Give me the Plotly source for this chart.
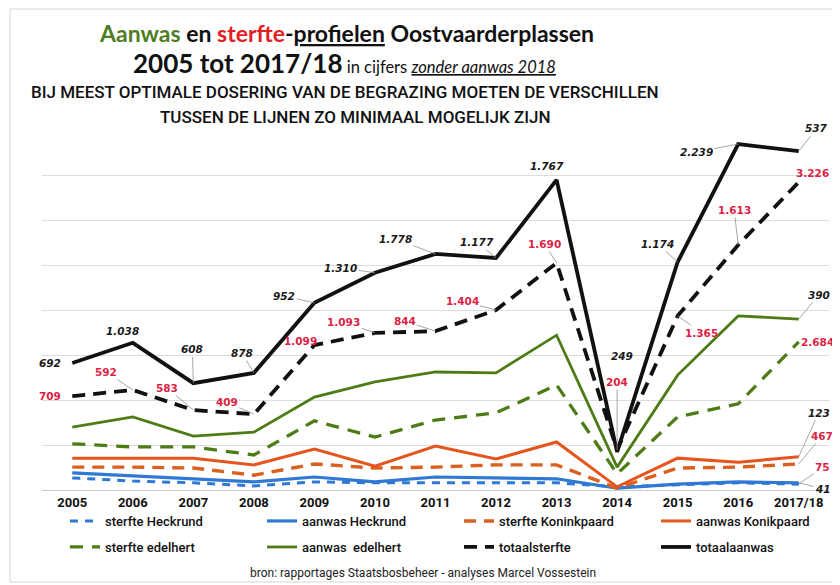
import plotly.graph_objects as go

# ---------------- data (plotted levels; grid step = 1) ----------------
years = ["2005", "2006", "2007", "2008", "2009", "2010", "2011", "2012",
         "2013", "2014", "2015", "2016", "2017/18"]

sterfte_heckrund = [0.27, 0.20, 0.16, 0.09, 0.18, 0.16, 0.16, 0.16, 0.16, 0.07, 0.11, 0.16, 0.13]
aanwas_heckrund = [0.38, 0.31, 0.25, 0.18, 0.29, 0.18, 0.29, 0.27, 0.25, 0.04, 0.13, 0.18, 0.16]
sterfte_koninkpaard = [0.51, 0.51, 0.49, 0.33, 0.58, 0.49, 0.51, 0.56, 0.56, 0.04, 0.49, 0.51, 0.58]
aanwas_konikpaard = [0.71, 0.71, 0.71, 0.56, 0.91, 0.53, 0.98, 0.69, 1.07, 0.07, 0.71, 0.62, 0.74]
sterfte_edelhert = [1.03, 0.96, 0.96, 0.78, 1.54, 1.18, 1.56, 1.72, 2.34, 0.36, 1.63, 1.92, 3.30]
aanwas_edelhert = [1.40, 1.63, 1.20, 1.29, 2.07, 2.41, 2.63, 2.61, 3.45, 0.51, 2.56, 3.88, 3.81]
totaalsterfte = [2.09, 2.23, 1.78, 1.69, 3.23, 3.50, 3.54, 4.01, 5.06, 0.89, 3.88, 5.46, 6.86]
totaalaanwas = [2.83, 3.28, 2.38, 2.61, 4.17, 4.84, 5.26, 5.17, 6.91, 0.85, 5.08, 7.71, 7.55]

totaalaanwas_labels = ["692", "1.038", "608", "878", "952", "1.310", "1.778", "1.177",
                       "1.767", "249", "1.174", "2.239", "537"]
totaalsterfte_labels = ["709", "592", "583", "409", "1.099", "1.093", "844", "1.404",
                        "1.690", "204", "1.365", "1.613", "3.226"]
end_label_aanwas_edelhert = "390"
end_label_sterfte_edelhert = "2.684"
end_label_aanwas_konikpaard = "123"
end_label_sterfte_koninkpaard = "467"
end_label_sterfte_heckrund = "75"
end_label_aanwas_heckrund = "41"

legend_names = ["sterfte Heckrund", "aanwas Heckrund", "sterfte Koninkpaard", "aanwas Konikpaard",
                "sterfte edelhert", "aanwas  edelhert", "totaalsterfte", "totaalaanwas"]

# ---------------- styling / layout constants ----------------
OFF = 8                      # page margin of the browser body
W, H = 840 - OFF, 585 - OFF
ML, MR, MT, MB = 34, 10.5, 123, 95
PW = W - ML - MR
PH = H - MT - MB


def px_x(px):
    """reference-picture x pixel -> paper coordinate"""
    return (px - OFF - ML) / PW


def px_y(py):
    """reference-picture y pixel -> paper coordinate"""
    return (H - MB - (py - OFF)) / PH


BLUE = "#2f78d4"
ORANGE = "#e4561d"
ORANGE_D = "#d9601e"
GREEN = "#4d7c17"
BLACK = "#111111"
RED = "#dc1f45"
LBL_BLACK = "#1a1a1a"

series = [
    (sterfte_heckrund, legend_names[0], BLUE, 3, "8px,7px", "legend"),
    (aanwas_heckrund, legend_names[1], BLUE, 3.2, "solid", "legend"),
    (sterfte_koninkpaard, legend_names[2], ORANGE_D, 3.4, "12px,8px", "legend"),
    (aanwas_konikpaard, legend_names[3], ORANGE, 3, "solid", "legend"),
    (sterfte_edelhert, legend_names[4], GREEN, 3.3, "13px,9px", "legend2"),
    (aanwas_edelhert, legend_names[5], GREEN, 2.8, "solid", "legend2"),
    (totaalsterfte, legend_names[6], BLACK, 3.8, "13px,8px", "legend2"),
    (totaalaanwas, legend_names[7], BLACK, 3.8, "solid", "legend2"),
]

fig = go.Figure()
for vals, name, color, width, dash, leg in series:
    fig.add_trace(go.Scatter(
        x=years, y=vals, mode="lines", name=name,
        line=dict(color=color, width=width, dash=dash),
        legend=leg, hoverinfo="skip",
    ))

ann = []
black_font = dict(family="DejaVu Sans, Verdana, sans-serif", size=10.5, color=LBL_BLACK,
                  weight="bold", style="italic")
red_font = dict(family="DejaVu Sans, Verdana, sans-serif", size=10.5, color=RED, weight="bold")
LEADER = "#8f8f8f"

# (dx, dy, leader) offsets in pixels for the labels
aanwas_offsets = [(-22, 0, False), (-10, -12, False), (-1, -34, True), (-12, -20, True),
                  (-30, -7, True), (-34, -5, True), (-40, -15, True), (-19, -16, True),
                  (-10, -14, False), (5, -96, False), (-20, -18, True), (-42, 8, True),
                  (18, -23, True)]
sterfte_offsets = [(-22, 0, False), (-27, -18, True), (-26, -22, True), (-27, -12, True),
                   (-14, -4, False), (-31, -11, True), (-31, -10, True), (-34, -9, True),
                   (-12, -19, True), (0, -68, True), (24, 17, True), (-4, -35, True),
                   (14, -9, False)]


def label(idx, yv, text, font, dx, dy, leader):
    if leader:
        return dict(x=idx, y=yv, xref="x", yref="y", text=text, font=font,
                    showarrow=True, arrowhead=0, arrowwidth=0.8, arrowcolor=LEADER,
                    ax=dx, ay=dy, standoff=0)
    return dict(x=idx, y=yv, xref="x", yref="y", text=text, font=font, showarrow=False,
                xshift=dx, yshift=-dy)


for i, t in enumerate(totaalaanwas_labels):
    dx, dy, ld = aanwas_offsets[i]
    ann.append(label(i, totaalaanwas[i], t, black_font, dx, dy, ld))
for i, t in enumerate(totaalsterfte_labels):
    dx, dy, ld = sterfte_offsets[i]
    ann.append(label(i, totaalsterfte[i], t, red_font, dx, dy, ld))

last = len(years) - 1
ann.append(label(last, aanwas_edelhert[last], end_label_aanwas_edelhert, black_font, 20, -24, True))
ann.append(label(last, sterfte_edelhert[last], end_label_sterfte_edelhert, red_font, 19, 0, False))
ann.append(label(last, aanwas_konikpaard[last], end_label_aanwas_konikpaard, black_font, 20, -44, True))
ann.append(label(last, sterfte_koninkpaard[last], end_label_sterfte_koninkpaard, red_font, 23, -28, True))
ann.append(label(last, sterfte_heckrund[last], end_label_sterfte_heckrund, red_font, 24, -17, True))
ann.append(label(last, aanwas_heckrund[last], end_label_aanwas_heckrund, black_font, 24, 6, True))

# ---------------- titles ----------------
TITLE_FONT = "Lato, 'Open Sans', sans-serif"
ann.append(dict(
    xref="paper", yref="paper", x=px_x(347), y=px_y(33), xanchor="center", yanchor="middle",
    showarrow=False,
    text=("<span style='color:#4e7d1f'>Aanwas</span> en "
          "<span style='color:#e31e24'>sterfte</span>-<u>profielen</u> Oostvaarderplassen"),
    font=dict(family=TITLE_FONT, size=23, color="#111", weight="bold"),
))
ann.append(dict(
    xref="paper", yref="paper", x=px_x(345), y=px_y(63), xanchor="center", yanchor="middle",
    showarrow=False,
    text=("2005 tot 2017/18<span style='font-size:16.5px;font-weight:normal'> in cijfers "
          "<i><u>zonder aanwas 2018</u></i></span>"),
    font=dict(family=TITLE_FONT, size=26, color="#111", weight="bold"),
))
ann.append(dict(
    xref="paper", yref="paper", x=px_x(345), y=px_y(92), xanchor="center", yanchor="middle",
    showarrow=False,
    text="BIJ MEEST OPTIMALE DOSERING VAN DE BEGRAZING MOETEN DE VERSCHILLEN",
    font=dict(family="Roboto, sans-serif", size=17, color="#111", weight=500),
))
ann.append(dict(
    xref="paper", yref="paper", x=px_x(356), y=px_y(117), xanchor="center", yanchor="middle",
    showarrow=False,
    text="TUSSEN DE LIJNEN ZO MINIMAAL MOGELIJK ZIJN",
    font=dict(family="Roboto, sans-serif", size=17, color="#111", weight=500),
))
ann.append(dict(
    xref="paper", yref="paper", x=px_x(423), y=px_y(573), xanchor="center", yanchor="middle",
    showarrow=False,
    text="bron: rapportages Staatsbosbeheer - analyses Marcel Vossestein",
    font=dict(family="Roboto, sans-serif", size=12, color="#222"),
))

legend_common = dict(
    orientation="h", xanchor="left", yanchor="middle",
    entrywidth=152, entrywidthmode="pixels",
    font=dict(family="'Liberation Sans Narrow', Roboto, sans-serif", size=13, color="#111",
              weight=500),
    bgcolor="rgba(0,0,0,0)", itemclick=False, itemdoubleclick=False,
    tracegroupgap=0,
)

fig.update_layout(
    width=W, height=H,
    margin=dict(l=ML, r=MR, t=MT, b=MB, autoexpand=False),
    paper_bgcolor="white", plot_bgcolor="white",
    showlegend=True,
    legend=dict(x=px_x(65), y=px_y(521), **legend_common),
    legend2=dict(x=px_x(65), y=px_y(547), **legend_common),
    annotations=ann,
    xaxis=dict(
        type="category", range=[-0.5, len(years) - 0.5], showgrid=False,
        showline=True, linecolor="#c8c8c8", linewidth=1, ticks="",
        tickfont=dict(family="Roboto, sans-serif", size=13, color="#111", weight="bold"),
        fixedrange=True,
    ),
    yaxis=dict(
        range=[0, 8], dtick=1, showticklabels=False, showgrid=True,
        gridcolor="#dcdcdc", gridwidth=1, zeroline=False, ticks="", fixedrange=True,
    ),
    shapes=[dict(type="rect", xref="paper", yref="paper",
                 x0=px_x(10), x1=px_x(836), y0=px_y(582), y1=px_y(9),
                 line=dict(color="#d6d6d6", width=1), layer="below")],
)

fig.write_html("out.html")
